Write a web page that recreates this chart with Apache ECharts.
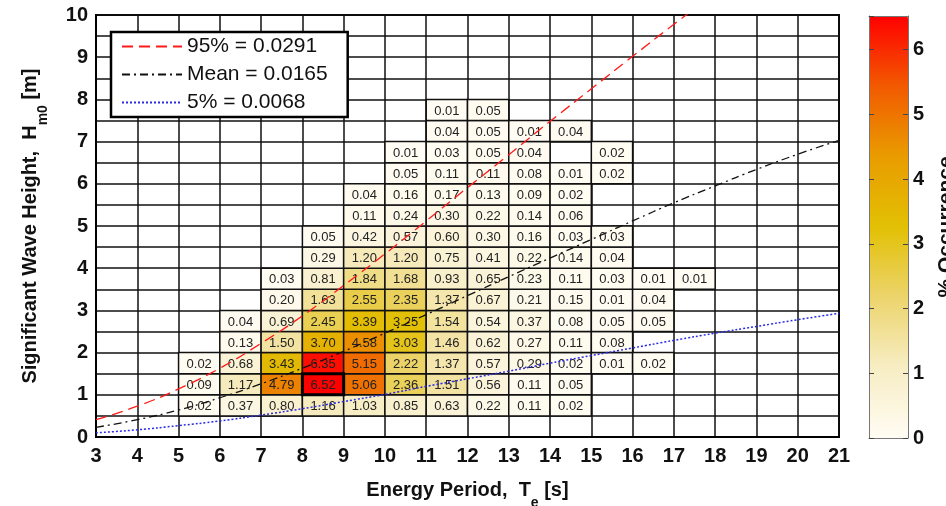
<!DOCTYPE html>
<html>
<head>
<meta charset="utf-8">
<script src="https://cdn.jsdelivr.net/npm/echarts@6/dist/echarts.min.js"></script>
<style>html,body{margin:0;padding:0;background:#fff}#c{width:946px;height:506px}</style>
</head>
<body>
<div id="c"></div>
<script>
// Energy period bin starts (bins are 1 s wide)
var teBins = [5, 6, 7, 8, 9, 10, 11, 12, 13, 14, 15, 16, 17];
// Significant wave height bin starts (bins are 0.5 m high)
var hsBins = [0.5, 1.0, 1.5, 2.0, 2.5, 3.0, 3.5, 4.0, 4.5, 5.0, 5.5, 6.0, 6.5, 7.0, 7.5];
// % occurrence per row (one array per Hs bin), columns follow teBins
var row0_5 = [0.02, 0.37, 0.80, 1.16, 1.03, 0.85, 0.63, 0.22, 0.11, 0.02, null, null, null];
var row1_0 = [0.09, 1.17, 4.79, 6.52, 5.06, 2.36, 1.51, 0.56, 0.11, 0.05, null, null, null];
var row1_5 = [0.02, 0.68, 3.43, 6.35, 5.15, 2.22, 1.37, 0.57, 0.29, 0.02, 0.01, 0.02, null];
var row2_0 = [null, 0.13, 1.50, 3.70, 4.58, 3.03, 1.46, 0.62, 0.27, 0.11, 0.08, null, null];
var row2_5 = [null, 0.04, 0.69, 2.45, 3.39, 3.25, 1.54, 0.54, 0.37, 0.08, 0.05, 0.05, null];
var row3_0 = [null, null, 0.20, 1.63, 2.55, 2.35, 1.37, 0.67, 0.21, 0.15, 0.01, 0.04, null];
var row3_5 = [null, null, 0.03, 0.81, 1.84, 1.68, 0.93, 0.65, 0.23, 0.11, 0.03, 0.01, 0.01];
var row4_0 = [null, null, null, 0.29, 1.20, 1.20, 0.75, 0.41, 0.22, 0.14, 0.04, null, null];
var row4_5 = [null, null, null, 0.05, 0.42, 0.57, 0.60, 0.30, 0.16, 0.03, 0.03, null, null];
var row5_0 = [null, null, null, null, 0.11, 0.24, 0.30, 0.22, 0.14, 0.06, null, null, null];
var row5_5 = [null, null, null, null, 0.04, 0.16, 0.17, 0.13, 0.09, 0.02, null, null, null];
var row6_0 = [null, null, null, null, null, 0.05, 0.11, 0.11, 0.08, 0.01, 0.02, null, null];
var row6_5 = [null, null, null, null, null, 0.01, 0.03, 0.05, 0.04, null, 0.02, null, null];
var row7_0 = [null, null, null, null, null, null, 0.04, 0.05, 0.01, 0.04, null, null, null];
var row7_5 = [null, null, null, null, null, null, 0.01, 0.05, null, null, null, null, null];
var rows = [row0_5, row1_0, row1_5, row2_0, row2_5, row3_0, row3_5, row4_0, row4_5, row5_0, row5_5, row6_0, row6_5, row7_0, row7_5];

// Steepness curves (Hs at each Te)
var teLine = [3, 4, 5, 6, 7, 8, 9, 10, 11, 12, 13, 14, 15, 16, 17, 18, 19, 20, 21];
var h95 = [0.41, 0.73, 1.14, 1.63, 2.22, 2.87, 3.59, 4.34, 5.12, 5.91, 6.69, 7.48, 8.25, 9.02, 9.78, 10.52, null, null, null];
var hMean = [0.23, 0.41, 0.64, 0.93, 1.26, 1.63, 2.03, 2.46, 2.90, 3.35, 3.80, 4.24, 4.68, 5.12, 5.55, 5.95, 6.34, 6.70, 7.03];
var h5 = [0.10, 0.17, 0.27, 0.38, 0.52, 0.67, 0.84, 1.01, 1.20, 1.38, 1.56, 1.75, 1.93, 2.11, 2.29, 2.46, 2.62, 2.78, 2.93];
var legendNames = ['95% = 0.0291', 'Mean = 0.0165', '5% = 0.0068'];
var xTicks = [3, 21];
var yTicks = [0, 10];
var cbarMax = 6.52;

var cells = [];
var maxVal = 0;
rows.forEach(function (r, i) {
  r.forEach(function (v, j) {
    if (v != null) {
      cells.push([teBins[j], hsBins[i], v]);
      if (v > maxVal) maxVal = v;
    }
  });
});
function pairs(ys) {
  var out = [];
  teLine.forEach(function (t, i) { if (ys[i] != null) out.push([t, ys[i]]); });
  return out;
}

var SANS = '"Liberation Sans", Arial, sans-serif';
var NARROW = '"Liberation Sans Narrow", "Arial Narrow", "Liberation Sans", Arial, sans-serif';
var chart = echarts.init(document.getElementById('c'), null, {renderer: 'canvas'});
chart.setOption({
  animation: false,
  backgroundColor: '#fff',
  grid: [
    {left: 96, top: 15, width: 743, height: 422, containLabel: false, outerBoundsMode: 'none',
     show: true, borderColor: '#000', borderWidth: 2, backgroundColor: '#fff'},
    {left: 869, top: 16, width: 39, height: 422, containLabel: false, outerBoundsMode: 'none', show: false}
  ],
  legend: {
    data: legendNames,
    orient: 'vertical',
    left: 111, top: 32,
    backgroundColor: '#fff',
    borderColor: '#000', borderWidth: 2.5, borderRadius: 0,
    padding: [4, 20, 4, 10],
    itemWidth: 60, itemHeight: 14, itemGap: 7,
    textStyle: {fontSize: 21, fontFamily: SANS, color: '#111'},
    itemStyle: {opacity: 0},
    selectedMode: false
  },
  visualMap: {
    type: 'continuous',
    min: 0, max: cbarMax,
    seriesIndex: 0, dimension: 2,
    orient: 'vertical',
    left: 869, top: 16,
    itemWidth: 39, itemHeight: 422,
    padding: 0,
    text: null, showLabel: false, calculable: false, hoverLink: false,
    z: 1,
    inRange: {color: ['#fffcf3', '#f7edc4', '#ecd46c', '#e2c004', '#e99c00', '#f25a00', '#ff0000']}
  },
  xAxis: [
    {gridIndex: 0, type: 'value', min: xTicks[0], max: xTicks[1], interval: 1,
     name: '{n|Energy Period,  T}{s|e}{n| [s]}', nameLocation: 'middle', nameGap: 43,
     nameTextStyle: {rich: {
       n: {fontSize: 20, fontWeight: 'bold', fontFamily: NARROW, color: '#111', lineHeight: 20, verticalAlign: 'top'},
       s: {fontSize: 14, fontWeight: 'bold', fontFamily: NARROW, color: '#111', lineHeight: 30, verticalAlign: 'bottom'}}},
     axisLine: {show: true, lineStyle: {color: '#000', width: 2}},
     axisTick: {show: false},
     axisLabel: {fontSize: 20, fontWeight: 'bold', fontFamily: NARROW, color: '#111', margin: 9},
     splitLine: {show: true, lineStyle: {color: '#111', width: 1.5}}},
    {gridIndex: 1, type: 'value', min: 0, max: 1, position: 'bottom', z: 5,
     axisLine: {show: true, onZero: false, lineStyle: {color: '#777', width: 1}},
     axisTick: {show: false}, axisLabel: {show: false}, splitLine: {show: false}},
    {gridIndex: 1, type: 'value', min: 0, max: 1, position: 'top', z: 5,
     axisLine: {show: true, onZero: false, lineStyle: {color: '#777', width: 1}},
     axisTick: {show: false}, axisLabel: {show: false}, splitLine: {show: false}}
  ],
  yAxis: [
    {gridIndex: 0, type: 'value', min: yTicks[0], max: yTicks[1], interval: 0.5,
     name: '{n|Significant Wave Height,  H}{s|m0}{n| [m]}', nameLocation: 'middle', nameGap: 46, nameRotate: 90,
     nameTextStyle: {rich: {
       n: {fontSize: 20, fontWeight: 'bold', fontFamily: NARROW, color: '#111', lineHeight: 20, verticalAlign: 'top'},
       s: {fontSize: 14, fontWeight: 'bold', fontFamily: NARROW, color: '#111', lineHeight: 30, verticalAlign: 'bottom'}}},
     axisLine: {show: true, lineStyle: {color: '#000', width: 2}},
     axisTick: {show: false},
     axisLabel: {fontSize: 20, fontWeight: 'bold', fontFamily: SANS, color: '#111', margin: 8,
       formatter: function (v) { return Math.abs(v - Math.round(v)) < 1e-6 ? String(Math.round(v)) : ''; }},
     splitLine: {show: true, lineStyle: {color: '#111', width: 1.5}}},
    {gridIndex: 1, type: 'value', min: 0, max: cbarMax, interval: 1, position: 'right', z: 5,
     name: '% Occurrence', nameLocation: 'middle', nameGap: 28, nameRotate: 90,
     nameTextStyle: {fontSize: 21, fontWeight: 'bold', fontFamily: SANS, color: '#111'},
     axisLine: {show: true, onZero: false, lineStyle: {color: '#777', width: 1}},
     axisTick: {show: true, inside: true, length: 5, lineStyle: {color: '#444', width: 1}},
     axisLabel: {fontSize: 20, fontWeight: 'bold', fontFamily: SANS, color: '#111', margin: 5,
       showMaxLabel: false},
     splitLine: {show: false}},
    {gridIndex: 1, type: 'value', min: 0, max: cbarMax, interval: 1, position: 'left', z: 5,
     axisLine: {show: true, onZero: false, lineStyle: {color: '#777', width: 1}},
     axisTick: {show: true, inside: true, length: 5, lineStyle: {color: '#444', width: 1}},
     axisLabel: {show: false}, splitLine: {show: false}}
  ],
  series: [
    {
      type: 'custom', xAxisIndex: 0, yAxisIndex: 0,
      data: cells, silent: true,
      renderItem: function (params, api) {
        var x0 = api.value(0), y0 = api.value(1), v = api.value(2);
        var p0 = api.coord([x0, y0]);
        var p1 = api.coord([x0 + 1, y0 + 0.5]);
        var rect = {x: p0[0], y: p1[1], width: p1[0] - p0[0], height: p0[1] - p1[1]};
        var children = [
          {type: 'rect', shape: rect, style: {fill: api.visual('color'), stroke: '#111', lineWidth: 1.5}},
          {type: 'text', z2: 5, style: {text: v.toFixed(2), x: (p0[0] + p1[0]) / 2, y: (p0[1] + p1[1]) / 2 + 1,
            align: 'center', verticalAlign: 'middle', fontSize: 13, fontFamily: SANS, fill: '#222'}}
        ];
        if (v === maxVal) {
          children.push({type: 'rect', z2: 10, shape: rect, style: {fill: null, stroke: '#000', lineWidth: 3}});
        }
        return {type: 'group', children: children};
      }
    },
    {name: legendNames[0], type: 'line', xAxisIndex: 0, yAxisIndex: 0, data: pairs(h95), smooth: true,
     symbol: 'none', clip: true, z: 3, lineStyle: {color: '#ff1a1a', width: 1.3, type: [11, 6]}},
    {name: legendNames[1], type: 'line', xAxisIndex: 0, yAxisIndex: 0, data: pairs(hMean), smooth: true,
     symbol: 'none', clip: true, z: 3, lineStyle: {color: '#111', width: 1.3, type: [8, 4, 2, 4]}},
    {name: legendNames[2], type: 'line', xAxisIndex: 0, yAxisIndex: 0, data: pairs(h5), smooth: true,
     symbol: 'none', clip: true, z: 3, lineStyle: {color: '#2a2ae6', width: 1.5, type: [2, 2]}}
  ]
});
</script>
</body>
</html>
